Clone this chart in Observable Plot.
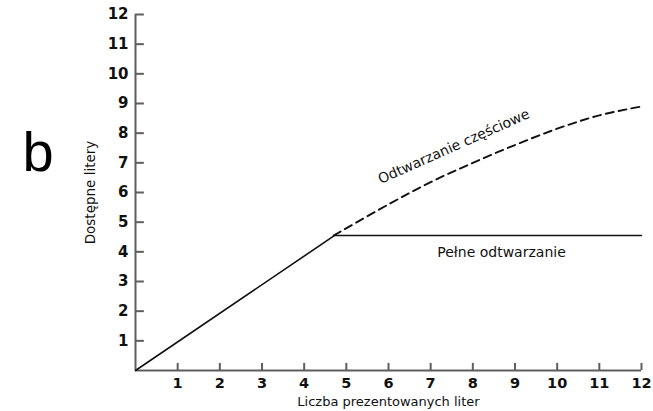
<!DOCTYPE html>
<html>
<head>
<meta charset="utf-8">
<script src="https://cdn.jsdelivr.net/npm/d3@7"></script>
<script src="https://cdn.jsdelivr.net/npm/@observablehq/plot@0.6"></script>
<style>
  html, body { margin: 0; padding: 0; background: #fff; }
</style>
</head>
<body>
<div id="chart"></div>
<script>
// Tick labels
const xTicks = [1, 2, 3, 4, 5, 6, 7, 8, 9, 10, 11, 12];
const yTicks = [1, 2, 3, 4, 5, 6, 7, 8, 9, 10, 11, 12];

// Series: initial rise (shared), full recall (flat), partial recall (dashed)
const riseX = [0, 4.75];
const riseY = [0, 4.58];
const fullX = [4.7, 12];
const fullY = [4.55, 4.55];
const partialX = [4.7, 6, 7, 8, 9, 10, 11, 12];
const partialY = [4.55, 5.6, 6.35, 7.0, 7.6, 8.15, 8.6, 8.9];

// Texts
const panelLabel = "b";
const xTitle = "Liczba prezentowanych liter";
const yTitle = "Dostępne litery";
const partialLabel = "Odtwarzanie częściowe";
const fullLabel = "Pełne odtwarzanie";

const toPts = (xs, ys) => xs.map((x, i) => ({x, y: ys[i]}));
const rise = toPts(riseX, riseY);
const full = toPts(fullX, fullY);
const partial = toPts(partialX, partialY);

const axisColor = "#5e5e5e";

const chart = Plot.plot({
  width: 653,
  height: 411,
  marginLeft: 135,
  marginRight: 12,
  marginTop: 14,
  marginBottom: 41,
  style: {fontFamily: "DejaVu Sans", background: "#fff", color: "#111", overflow: "visible"},
  x: {domain: [0, 12]},
  y: {domain: [0, 12]},
  marks: [
    Plot.ruleY([0], {stroke: axisColor, strokeWidth: 2}),
    Plot.ruleX([0], {stroke: axisColor, strokeWidth: 2}),
    // inward ticks (pointing up from the x axis, right from the y axis)
    Plot.ruleX(xTicks, {x: d => d, y1: 0, y2: 0.24, stroke: axisColor, strokeWidth: 2}),
    Plot.ruleY(yTicks, {y: d => d, x1: 0, x2: 0.21, stroke: axisColor, strokeWidth: 2}),
    Plot.axisX(xTicks, {tickSize: 0, tickPadding: 7, fontSize: 14.5, fontWeight: "bold", fill: "#111", label: null}),
    Plot.axisY(yTicks, {tickSize: 0, tickPadding: 7, fontSize: 15, fontWeight: "bold", fill: "#111", label: null}),
    Plot.line(rise, {x: "x", y: "y", stroke: "#111", strokeWidth: 1.6}),
    Plot.line(full, {x: "x", y: "y", stroke: "#111", strokeWidth: 1.4}),
    Plot.line(partial, {x: "x", y: "y", stroke: "#111", strokeWidth: 1.9,
      strokeDasharray: "8,5", curve: "catmull-rom"}),
    Plot.text([partialLabel], {x: 7.55, y: 7.55, text: d => d, rotate: -24, fontSize: 14, fill: "#111"}),
    Plot.text([fullLabel], {x: 8.68, y: 3.98, text: d => d, fontSize: 14, fill: "#111"}),
    Plot.text([xTitle], {frameAnchor: "bottom", dy: 35, text: d => d, fontSize: 13, fill: "#111"}),
    Plot.text([yTitle], {frameAnchor: "left", dx: -45, rotate: -90, textAnchor: "middle",
      text: d => d, fontSize: 13.5, fill: "#111"}),
    Plot.text([panelLabel], {frameAnchor: "top-left", textAnchor: "start", lineAnchor: "top",
      dx: -113, dy: 117, text: d => d, fontSize: 56, fontFamily: "Liberation Sans", fill: "#000"})
  ]
});
document.getElementById("chart").appendChild(chart);
</script>
</body>
</html>
